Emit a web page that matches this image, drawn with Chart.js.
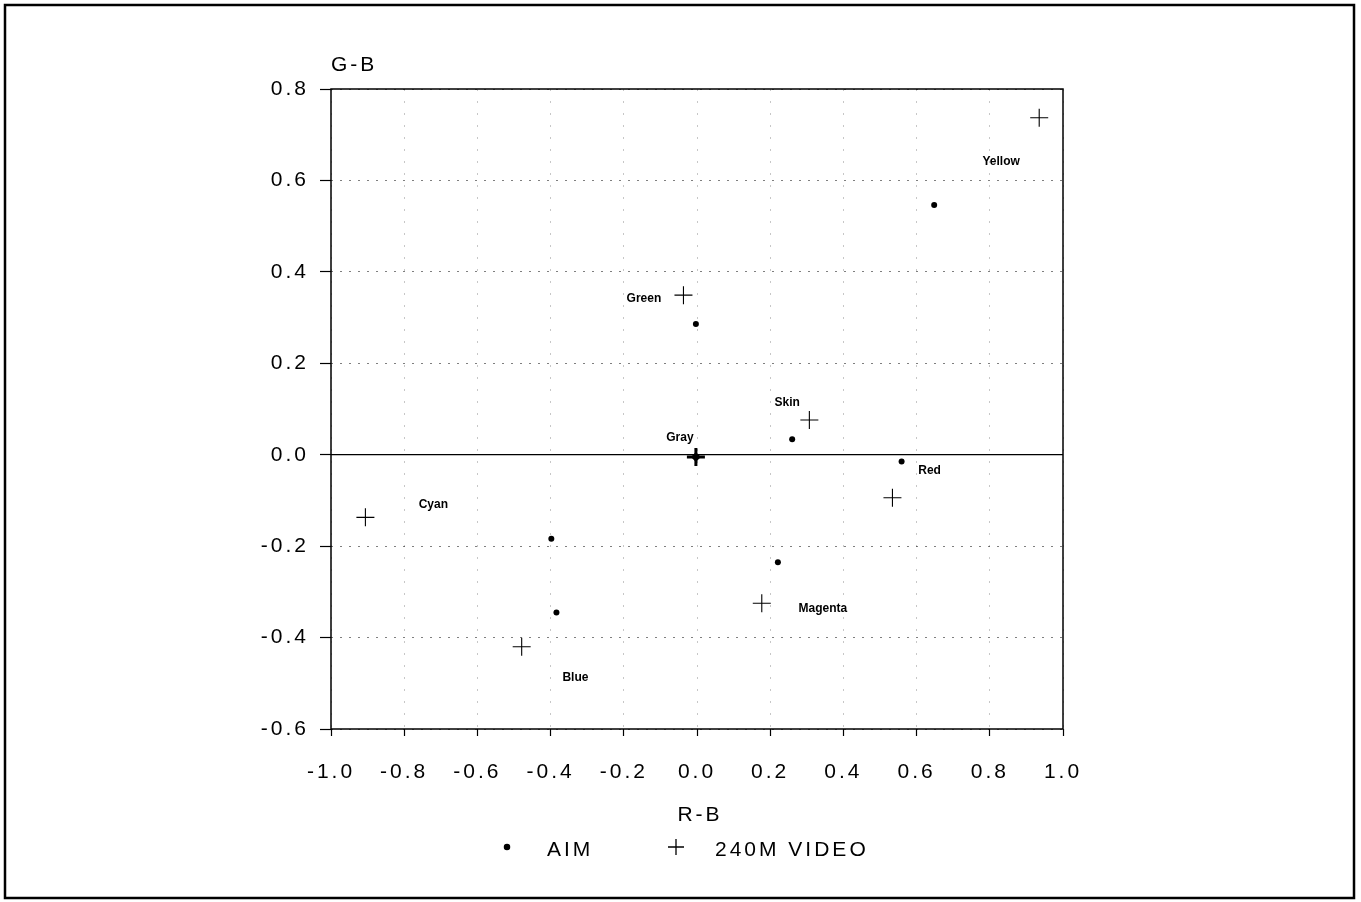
<!DOCTYPE html>
<html>
<head>
<meta charset="utf-8">
<script src="https://cdn.jsdelivr.net/npm/chart.js"></script>
<style>
  html, body { margin: 0; padding: 0; background: #fff; }
  canvas { display: block; }
</style>
</head>
<body>
<canvas id="myChart" width="1361" height="902"></canvas>
<script>
// data
const colorNames = ['Yellow', 'Green', 'Skin', 'Gray', 'Red', 'Cyan', 'Blue', 'Magenta'];
const seriesNames = ['AIM', '240M VIDEO'];
const aimRB   = [0.648, -0.003, 0.260, -0.003,  0.559, -0.398, -0.384,  0.221];
const aimGB   = [0.546,  0.286, 0.034, -0.005, -0.015, -0.184, -0.345, -0.235];
const videoRB = [0.935, -0.037, 0.307, -0.003,  0.534, -0.906, -0.479,  0.177];
const videoGB = [0.737,  0.349, 0.076, -0.005, -0.094, -0.137, -0.420, -0.325];
const xTickValues = [-1.0, -0.8, -0.6, -0.4, -0.2, 0.0, 0.2, 0.4, 0.6, 0.8, 1.0];
const yTickValues = [-0.6, -0.4, -0.2, 0.0, 0.2, 0.4, 0.6, 0.8];
const xTitle = 'R-B';
const yTitle = 'G-B';

const FONT = '"Liberation Sans", Arial, Helvetica, sans-serif';
const fmt = v => (Math.abs(v) < 1e-9 ? 0 : v).toFixed(1);
const toPoints = (xs, ys) => xs.map((x, i) => ({x: x, y: ys[i]}));
const grayIdx = colorNames.indexOf('Gray');

// where each colour name sits, relative to its AIM point (px)
const labelOffsets = {
  Yellow: [67, -43], Green: [-52, -25], Skin: [-5, -36], Gray: [-16, -19],
  Red: [28, 9], Cyan: [-118, -34], Blue: [19, 65], Magenta: [45, 47]
};

const spacing = {
  id: 'spacing',
  beforeLayout(chart) { chart.ctx.letterSpacing = '3px'; },
  beforeDraw(chart) {
    const ctx = chart.ctx;
    ctx.save();
    ctx.fillStyle = '#fff';
    ctx.fillRect(0, 0, chart.width, chart.height);
    ctx.restore();
    ctx.letterSpacing = '3px';
  }
};

const decorations = {
  id: 'decorations',
  afterDraw(chart) {
    const {ctx, chartArea: a, scales} = chart;
    ctx.save();
    ctx.strokeStyle = '#000';
    // outer frame
    ctx.lineWidth = 2.5;
    ctx.strokeRect(5, 5, 1349, 893);
    // plot box
    ctx.lineWidth = 1.5;
    ctx.strokeRect(a.left, a.top, a.right - a.left, a.bottom - a.top);
    // zero line
    const y0 = scales.y.getPixelForValue(0);
    ctx.lineWidth = 1.3;
    ctx.beginPath();
    ctx.moveTo(a.left, y0);
    ctx.lineTo(a.right, y0);
    ctx.stroke();

    // colour names
    ctx.letterSpacing = '0px';
    ctx.fillStyle = '#000';
    ctx.font = 'bold 12px ' + FONT;
    ctx.textAlign = 'center';
    ctx.textBaseline = 'middle';
    const pts = chart.getDatasetMeta(0).data;
    colorNames.forEach((name, i) => {
      const off = labelOffsets[name];
      ctx.fillText(name, pts[i].x + off[0], pts[i].y + off[1]);
    });

    // axis titles
    ctx.letterSpacing = '3px';
    ctx.font = '21px ' + FONT;
    ctx.textAlign = 'left';
    ctx.fillText(yTitle, a.left, 65);
    ctx.textAlign = 'center';
    ctx.fillText(xTitle, (a.left + a.right) / 2 + 3, 815);

    // legend
    const ds = chart.data.datasets;
    const items = [[507, 547], [676, 715]];
    items.forEach((it, i) => {
      ctx.fillStyle = '#000';
      ctx.strokeStyle = '#000';
      Chart.helpers.drawPoint(ctx, {
        pointStyle: ds[i].pointStyle,
        radius: i === 0 ? 2.6 : 8,
        borderWidth: 1,
        rotation: 0
      }, it[0], 847);
      ctx.textAlign = 'left';
      ctx.fillText(seriesNames[i], it[1], 850);
    });
    ctx.restore();
  }
};

const config = {
  type: 'scatter',
  data: {
    datasets: [{
      label: seriesNames[0],
      data: toPoints(aimRB, aimGB),
      pointStyle: c => c.dataIndex === grayIdx ? 'rectRot' : 'circle',
      pointRadius: c => c.dataIndex === grayIdx ? 5 : 3,
      backgroundColor: '#000',
      borderColor: '#000',
      borderWidth: 0
    }, {
      label: seriesNames[1],
      data: toPoints(videoRB, videoGB),
      pointStyle: 'cross',
      pointRadius: 9,
      borderWidth: c => c.dataIndex === grayIdx ? 3 : 1.1,
      borderColor: '#000',
      backgroundColor: '#000'
    }]
  },
  options: {
    responsive: false,
    animation: false,
    events: [],
    layout: { padding: { top: 89, right: 298, left: 0, bottom: 0 } },
    plugins: {
      legend: { display: false },
      tooltip: { enabled: false }
    },
    scales: {
      x: {
        type: 'linear',
        min: -1, max: 1,
        afterBuildTicks: s => { s.ticks = xTickValues.map(v => ({value: v})); },
        afterFit: s => { s.height = 173; },
        grid: {
          color: 'rgba(0,0,0,0.22)',
          lineWidth: 1,
          tickColor: '#000',
          tickLength: 7,
          tickWidth: 1.2
        },
        border: { display: false, dash: [2, 10] },
        ticks: {
          color: '#000',
          font: { family: FONT, size: 21 },
          padding: 24,
          maxRotation: 0,
          autoSkip: false,
          callback: v => fmt(v)
        }
      },
      y: {
        type: 'linear',
        min: -0.6, max: 0.8,
        afterBuildTicks: s => { s.ticks = yTickValues.map(v => ({value: v})); },
        afterFit: s => { s.width = 331; },
        grid: {
          color: c => c.tick && Math.abs(c.tick.value) < 1e-9 ? 'rgba(0,0,0,0)' : 'rgba(0,0,0,0.5)',
          lineWidth: 1,
          tickColor: '#000',
          tickLength: 11,
          tickWidth: 1.2
        },
        border: { display: false, dash: [2, 7] },
        ticks: {
          color: '#000',
          font: { family: FONT, size: 21 },
          padding: 11,
          autoSkip: false,
          callback: v => fmt(v)
        }
      }
    }
  },
  plugins: [spacing, decorations]
};

const myChart = new Chart(
  document.getElementById('myChart'),
  config
);
</script>
</body>
</html>
